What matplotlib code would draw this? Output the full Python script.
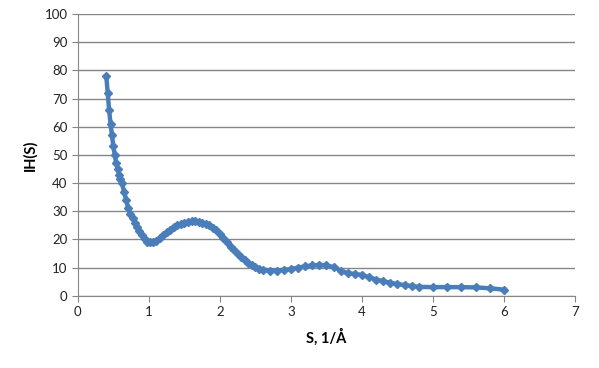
import matplotlib
matplotlib.use('Agg')
import matplotlib.pyplot as plt

# scattering curve
s_vals = [0.40, 0.42, 0.44, 0.46, 0.48, 0.50, 0.52, 0.54, 0.56, 0.58, 0.60, 0.62,
          0.65, 0.68, 0.71, 0.74, 0.77, 0.80, 0.83, 0.86,
          0.90, 0.94, 0.98, 1.02, 1.06, 1.10,
          1.15, 1.20, 1.25, 1.30, 1.35, 1.40, 1.45, 1.50, 1.55, 1.60,
          1.65, 1.70, 1.75, 1.80, 1.85, 1.90, 1.95, 2.00, 2.05, 2.10,
          2.15, 2.20, 2.25, 2.30, 2.35, 2.40, 2.45, 2.50, 2.55, 2.60,
          2.70, 2.80, 2.90, 3.00, 3.10, 3.20, 3.30, 3.40, 3.50, 3.60, 3.70,
          3.80, 3.90, 4.00, 4.10, 4.20, 4.30, 4.40, 4.50, 4.60, 4.70, 4.80,
          5.00, 5.20, 5.40, 5.60, 5.80, 6.00]
ih_vals = [78, 72, 66, 61, 57, 53, 50, 47, 45, 43, 41.5, 40,
           37, 34, 31, 29, 27.5, 26, 24.5, 23,
           21.5, 20, 19, 19, 19.2, 19.5,
           20.5, 21.5, 22.5, 23.5, 24.5, 25, 25.5, 26, 26.3, 26.5,
           26.5, 26.3, 26, 25.6, 25, 24.2, 23.2, 22, 20.6, 19,
           17.5, 16.2, 15, 13.8, 12.7, 11.7, 10.9, 10.2, 9.7, 9.3,
           9.0, 9.0, 9.2, 9.5, 10.0, 10.5, 10.8, 11.0, 10.8, 10.2, 9.0,
           8.0, 7.8, 7.4, 6.6, 5.8, 5.2, 4.6, 4.2, 3.8, 3.5, 3.2,
           3.1, 3.1, 3.1, 3.0, 2.7, 2.2]

x_ticks = [0, 1, 2, 3, 4, 5, 6, 7]
y_ticks = [0, 10, 20, 30, 40, 50, 60, 70, 80, 90, 100]

plt.rcParams['font.family'] = ['Lato', 'DejaVu Sans']

fig = plt.figure(figsize=(5.99, 3.68), dpi=100)
ax = fig.add_axes([0.130, 0.196, 0.830, 0.766])

ax.plot(s_vals, ih_vals, color='#4A7EBB', linewidth=3.2, marker='D',
        markersize=4, zorder=3)

ax.set_xlim(0, 7)
ax.set_ylim(0, 100)
ax.set_xticks(x_ticks)
ax.set_yticks(y_ticks)
ax.yaxis.grid(True, color='#868686', linewidth=1.0)
ax.set_axisbelow(True)

for side in ['top', 'right']:
    ax.spines[side].set_visible(False)
for side in ['left', 'bottom']:
    ax.spines[side].set_color('#868686')
ax.tick_params(direction='out', length=4, color='#868686', labelsize=9.5,
               labelcolor='#222222')

ax.set_xlabel('S, 1/Å', fontsize=10.5, fontweight='bold', labelpad=7)
ax.set_ylabel('IH(S)', fontsize=10.5, fontweight='bold', labelpad=5)

plt.savefig('out.png', dpi=100)
